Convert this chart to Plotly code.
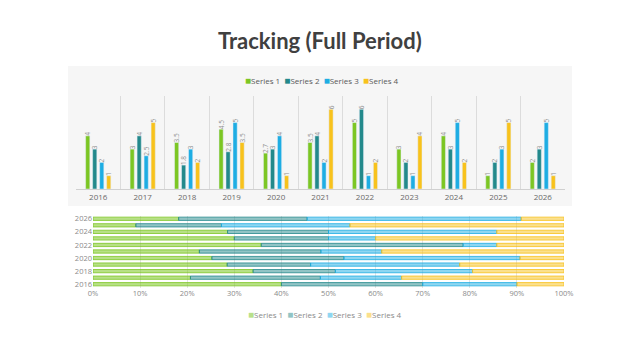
import plotly.graph_objects as go

years = ["2016", "2017", "2018", "2019", "2020", "2021", "2022", "2023", "2024", "2025", "2026"]
series_names = ["Series 1", "Series 2", "Series 3", "Series 4"]
s1 = [4, 3, 3.5, 4.5, 2.7, 3.5, 5, 3, 4, 1, 2]
s2 = [3, 4, 1.8, 2.8, 3, 4, 6, 2, 3, 2, 3]
s3 = [2, 2.5, 3, 5, 4, 2, 1, 1, 5, 3, 5]
s4 = [1, 5, 2, 3.5, 1, 6, 2, 4, 2, 5, 1]
colors = ["#7CC623", "#23898B", "#1EADE3", "#F8C21C"]
light = ["rgba(124,198,35,0.55)", "rgba(35,137,139,0.5)", "rgba(30,173,227,0.5)", "rgba(248,194,28,0.5)"]
bottom_ticks = ["2016", "2018", "2020", "2022", "2024", "2026"]
pct_ticks = list(range(0, 101, 10))
pct_labels = [f"{v}%" for v in pct_ticks]

W, H = 640, 360
def px(x):
    return x / W
def py(y):
    return 1 - y / H

series = [s1, s2, s3, s4]
fig = go.Figure()

# Top grouped bar chart
for name, vals, c in zip(series_names, series, colors):
    fig.add_trace(go.Bar(
        x=years, y=vals, name=name, marker_color=c,
        text=[str(v) for v in vals], textposition="outside", textangle=-90,
        textfont=dict(size=6.5, color="#8f8f8f", family="Open Sans"),
        constraintext="none", cliponaxis=False, showlegend=False,
        xaxis="x", yaxis="y",
    ))

# Bottom 100% stacked bar chart (manual stacking via base)
totals = [sum(v[i] for v in series) for i in range(len(years))]
cum = [0.0] * len(years)
for name, vals, c, lc in zip(series_names, series, colors, light):
    pct = [v / t * 100 for v, t in zip(vals, totals)]
    fig.add_trace(go.Bar(
        y=years, x=pct, base=list(cum), orientation="h", name=name,
        marker=dict(color=lc, line=dict(color=c, width=0.8)),
        width=0.5, offsetgroup="stack", showlegend=False,
        xaxis="x2", yaxis="y2",
    ))
    cum = [a + b for a, b in zip(cum, pct)]

fig.update_layout(
    width=W, height=H,
    margin=dict(l=0, r=0, t=0, b=0),
    paper_bgcolor="white", plot_bgcolor="rgba(0,0,0,0)",
    barmode="group", bargap=0.37, bargroupgap=0.4,
    font=dict(family="Open Sans", color="#595959"),
    xaxis=dict(domain=[px(76), px(565)], type="category", tickson="boundaries",
               showgrid=True, gridcolor="#dcdcdc", gridwidth=1, automargin=False,
               showline=True, linecolor="#d0d0d0", ticks="",
               tickfont=dict(size=8, color="#6a6a6a"), anchor="y"),
    yaxis=dict(domain=[py(189), py(96)], range=[0, 7], showgrid=False, automargin=False,
               showticklabels=False, zeroline=False, anchor="x"),
    xaxis2=dict(domain=[px(93), px(564)], range=[0, 100], tickvals=pct_ticks,
                ticktext=pct_labels, showgrid=True, gridcolor="#e4e4e4", zeroline=False,
                automargin=False, tickfont=dict(size=7.5, color="#8a8a8a"), anchor="y2"),
    yaxis2=dict(domain=[py(287.5), py(215.5)], type="category", categoryorder="array",
                categoryarray=years, tickvals=bottom_ticks, showgrid=False, automargin=False,
                tickfont=dict(size=7.5, color="#8a8a8a"), anchor="x2"),
    shapes=[dict(type="rect", xref="paper", yref="paper", x0=px(68), x1=px(572),
                 y0=py(206), y1=py(66), fillcolor="#F6F6F6", line=dict(width=0),
                 layer="below")],
)

def legend_text(cols):
    parts = []
    for n, c in zip(series_names, cols):
        parts.append(f"<span style='color:{c};font-size:10px'>■</span>{n}")
    return "&nbsp;&nbsp;".join(parts)

ann = dict(xref="paper", yref="paper", showarrow=False, xanchor="center", yanchor="middle")
fig.add_annotation(text="<b>Tracking (Full Period)</b>", x=0.5, y=py(40),
                   font=dict(family="Lato", size=22, color="#404040"), **ann)
fig.add_annotation(text=legend_text(colors), x=px(322), y=py(80),
                   font=dict(size=8, color="#595959"), **ann)
fig.add_annotation(text=legend_text(light), x=px(325), y=py(314),
                   font=dict(size=8, color="#8a8a8a"), **ann)

fig.write_html("out.html", post_script="document.body.style.margin='0';",
               config={"displayModeBar": False})
